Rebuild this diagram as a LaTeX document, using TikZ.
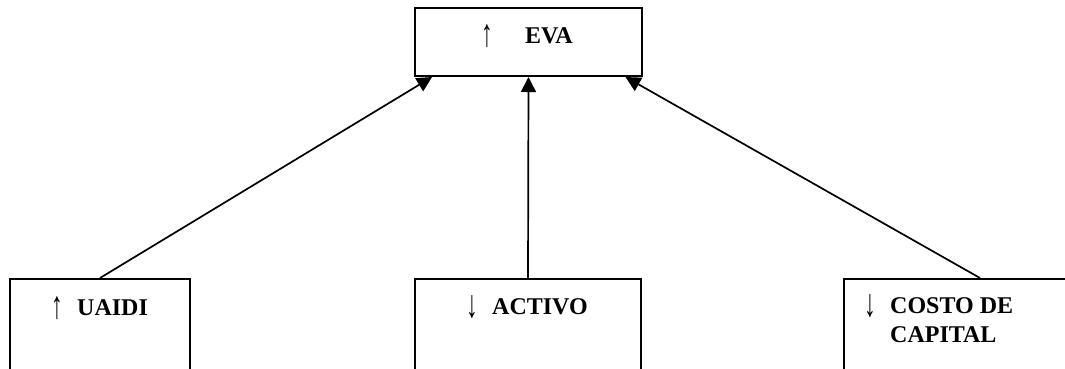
\documentclass[tikz,border=0pt]{standalone}
\usepackage{fontspec}
\setmainfont{Liberation Serif}
\usetikzlibrary{arrows.meta}
\newcommand{\dirglyph}[1]{\scalebox{0.9}[1.5]{#1}}
\begin{document}
\begin{tikzpicture}[x=1pt,y=-1pt,
  box/.style={draw,line width=2pt,rectangle,inner sep=0pt},
  link/.style={line width=1.7pt,-{Triangle[length=15pt,width=15pt]}},
  word/.style={font=\fontsize{24}{29}\selectfont\bfseries,anchor=base west,inner sep=0pt},
  dir/.style={font=\fontsize{26}{29}\selectfont,anchor=base west,inner sep=0pt}]
\useasboundingbox (0,0) rectangle (1065,368);
\clip (0,0) rectangle (1065,368);

% boxes
\node[box,minimum width=227pt,minimum height=68pt] (eva) at (528.5,42) {};
\node[box,minimum width=180pt,minimum height=140pt] (uaidi) at (100,349) {};
\node[box,minimum width=226pt,minimum height=140pt] (activo) at (528,349) {};
\node[box,minimum width=272pt,minimum height=140pt] (costo) at (980,349) {};

% labels
\node[dir]  (evaarr) at (481,46) {\dirglyph{↑}};
\node[word] (evatxt) at (525,43) {EVA};
\node[dir]  (uaidiarr) at (51,318) {\dirglyph{↑}};
\node[word] (uaiditxt) at (77,315) {UAIDI};
\node[dir]  (activoarr) at (466,317) {\dirglyph{↓}};
\node[word] (activotxt) at (492,314) {ACTIVO};
\node[dir]  (costoarr) at (864,316) {\dirglyph{↓}};
\node[word] (costotxt) at (890,313) {COSTO DE};
\node[word] (costotxtb) at (890,342) {CAPITAL};

% connectors
\draw[link] (uaidi.north) -- ([xshift=-96.5pt]eva.south);
\draw[link] (activo.north) -- (eva.south);
\draw[link] (costo.north) -- ([xshift=97pt]eva.south);
\end{tikzpicture}
\end{document}
